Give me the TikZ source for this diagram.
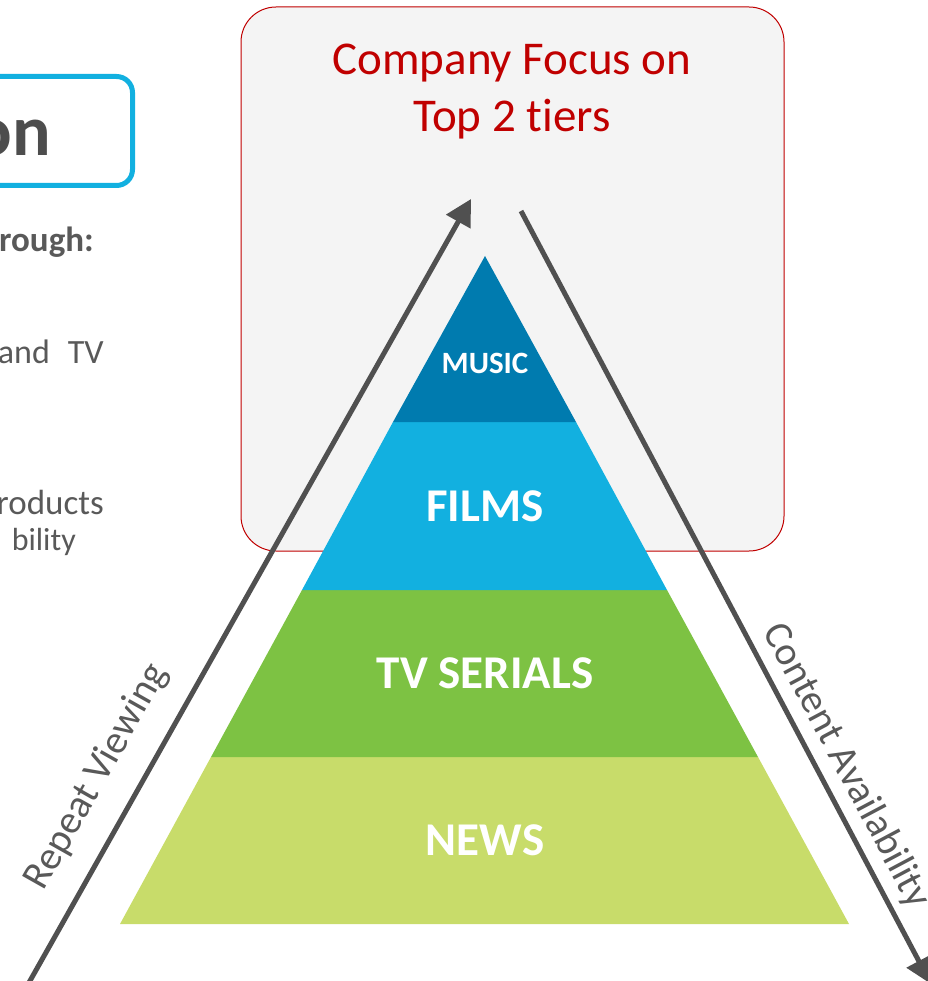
\documentclass[tikz,border=0pt]{standalone}
\usepackage{fontspec}
\setmainfont{Carlito}[Ligatures=NoCommon]
\usetikzlibrary{arrows.meta}

\definecolor{txtgray}{HTML}{595959}
\definecolor{headgray}{HTML}{4D4D4D}
\definecolor{arrowgray}{HTML}{505050}
\definecolor{panelgray}{HTML}{F4F4F4}
\definecolor{focusred}{HTML}{C00000}
\definecolor{musicblue}{HTML}{007BAF}
\definecolor{filmblue}{HTML}{12B0E0}
\definecolor{tvgreen}{HTML}{7DC243}
\definecolor{newsgreen}{HTML}{C8DC6A}

\begin{document}
\begin{tikzpicture}[x=1pt,y=-1pt,
	tier/.style={font=\bfseries\fontsize{47}{56}\selectfont,text=white},
	side/.style={font=\fontsize{40}{48}\selectfont,text=txtgray},
	para/.style={font=\fontsize{33}{40}\selectfont,text=txtgray,anchor=base east,inner sep=0pt},
	trend/.style={line width=5pt,draw=arrowgray,-{Triangle[length=26pt,width=27pt]}}]
				\useasboundingbox (0,0) rectangle (927,981);
				
				% Draw the grey panel behind the top tiers
				\draw[focusred,fill=panelgray,line width=1pt,rounded corners=35pt] (241,7) rectangle (784,551);
				\node[text=focusred,font=\fontsize{47}{57}\selectfont,align=center] (focus) at (512,92) {Company Focus on\\Top 2 tiers};
				
				% Draw the four tiers of the pyramid
				\fill[newsgreen] (120,924) -- (849,924) -- (758,757) -- (211,757) -- cycle;
				\fill[tvgreen] (211,757) -- (758,757) -- (667,590) -- (302,590) -- cycle;
				\fill[filmblue] (302,590) -- (667,590) -- (576,422) -- (393,422) -- cycle;
				\fill[musicblue] (393,422) -- (576,422) -- (485,256) -- cycle;
				
				% Label the tiers
				\node[text=white,font=\bfseries\fontsize{31}{37}\selectfont] (music) at (485,363) {MUSIC};
				\node[tier] (films) at (485,506) {FILMS};
				\node[tier] (serials) at (485,673) {TV SERIALS};
				\node[tier] (news) at (485,840) {NEWS};
				
				% Add the two trend arrows
				\coordinate (rvtail) at (22,995);
				\coordinate (rvtip) at (471,199);
				\coordinate (catail) at (521,211);
				\coordinate (catip) at (931,984);
				\draw[trend] (rvtail) -- (rvtip);
				\draw[trend] (catail) -- (catip);
				\node[side,rotate=60.5] (repeat) at (97,777) {Repeat Viewing};
				\node[side,rotate=-62] (content) at (846,766) {Content Availability};
				
				% Left text, cut off by the page edge
				\draw[filmblue,line width=5pt,rounded corners=16pt] (-30,76.5) rectangle (132.5,185.5);
				\node[font=\bfseries\fontsize{72}{86}\selectfont,text=headgray,anchor=base east,inner sep=0pt] (title) at (51,156) {on};
				\node[para,font=\bfseries\fontsize{35}{42}\selectfont] (through) at (94,252) {rough:};
				\node[para,font=\fontsize{34}{41}\selectfont] (tvline) at (104,363) {and\hspace{18pt}TV};
				\node[para,font=\fontsize{35}{42}\selectfont] (products) at (104,514) {roducts};
				\node[para,font=\fontsize{32}{38}\selectfont] (ability) at (76,550) {bility};
			\end{tikzpicture}
\end{document}
